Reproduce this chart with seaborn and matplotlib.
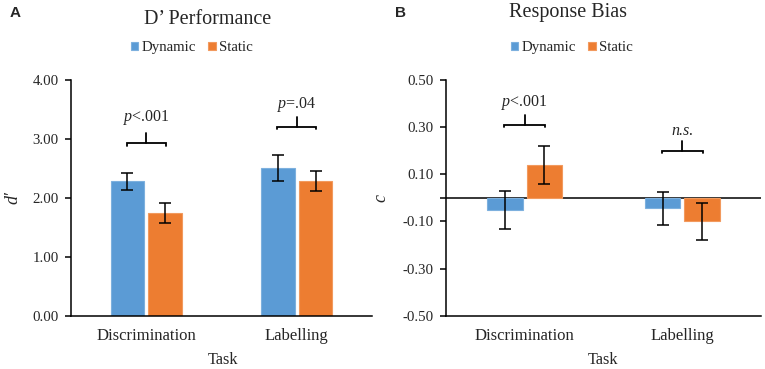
import matplotlib
matplotlib.use('Agg')
import matplotlib.pyplot as plt
import numpy as np
import pandas as pd
import seaborn as sns
from matplotlib.patches import Patch

tasks = ['Discrimination', 'Labelling']
conditions = ['Dynamic', 'Static']

dprime_dynamic = [2.28, 2.50]
dprime_static = [1.75, 2.29]
dprime_err_dynamic = [0.14, 0.22]
dprime_err_static = [0.17, 0.17]

bias_dynamic = [-0.05, -0.045]
bias_static = [0.14, -0.10]
bias_err_dynamic = [0.08, 0.07]
bias_err_static = [0.08, 0.077]

dprime_sig_labels = ['p<.001', 'p=.04']
dprime_sig_heights = [2.93, 3.21]
dprime_text_heights = [3.31, 3.52]
bias_sig_labels = ['p<.001', 'n.s.']
bias_sig_heights = [0.31, 0.20]
bias_text_heights = [0.39, 0.266]

colors = ['#5B9BD5', '#ED7D31']
edges = ['#7DB0DE', '#F29A5E']

sns.set_style('white')
plt.rcParams['font.family'] = ['Liberation Serif', 'DejaVu Serif']
plt.rcParams['mathtext.fontset'] = 'custom'
plt.rcParams['mathtext.rm'] = 'Liberation Serif'
plt.rcParams['mathtext.it'] = 'Liberation Serif:italic'
plt.rcParams['axes.unicode_minus'] = False


def make_df(dyn, sta):
    return pd.DataFrame({
        'Task': tasks * 2,
        'Condition': ['Dynamic'] * 2 + ['Static'] * 2,
        'value': list(dyn) + list(sta),
    })


def draw_panel(ax, dyn, sta, err_dyn, err_sta, sig_labels, sig_heights,
               text_heights):
    df = make_df(dyn, sta)
    sns.barplot(data=df, x='Task', y='value', hue='Condition',
                hue_order=conditions, order=tasks, palette=colors,
                saturation=1, width=0.5, gap=0.1, errorbar=None,
                legend=False, ax=ax)
    for cont, errs, ec in zip(ax.containers, [err_dyn, err_sta], edges):
        for bar, e in zip(cont, errs):
            bar.set_edgecolor(ec)
            bar.set_linewidth(0.8)
            x = bar.get_x() + bar.get_width() / 2
            y = bar.get_y() + bar.get_height()
            ax.errorbar(x, y, yerr=e, fmt='none', ecolor='black',
                        elinewidth=1.1, capsize=4.5, capthick=1.1)
    lo, hi = ax.get_ylim()
    rng = hi - lo
    for i, (lab, h, th) in enumerate(zip(sig_labels, sig_heights,
                                         text_heights)):
        hw = 0.13
        drop = 0.011 * rng
        rise = 0.042 * rng
        ax.plot([i - hw, i - hw, i + hw, i + hw],
                [h - drop, h, h, h - drop], color='black', lw=1.3,
                solid_joinstyle='miter')
        ax.plot([i, i], [h, h + rise], color='black', lw=1.3)
        if lab.startswith('p'):
            ax.text(i, th, '$p$' + lab[1:], ha='center', va='baseline',
                    fontsize=11.5)
        else:
            ax.text(i, th, lab, ha='center', va='baseline',
                    fontsize=11.5, fontstyle='italic')


fig = plt.figure(figsize=(7.65, 3.69), dpi=100)
axA = fig.add_axes([71 / 765, 0.1444, 301 / 765, 0.6386])
axB = fig.add_axes([446 / 765, 0.1444, 315 / 765, 0.6386])

# panel A
axA.set_ylim(0, 4)
draw_panel(axA, dprime_dynamic, dprime_static, dprime_err_dynamic,
           dprime_err_static, dprime_sig_labels, dprime_sig_heights,
           dprime_text_heights)
axA.set_ylim(0, 4)
axA.set_yticks([0, 1, 2, 3, 4])
axA.set_yticklabels([f'{v:.2f}' for v in [0, 1, 2, 3, 4]])
axA.set_xlim(-0.5, 1.5)

# panel B
axB.set_ylim(-0.5, 0.5)
draw_panel(axB, bias_dynamic, bias_static, bias_err_dynamic,
           bias_err_static, bias_sig_labels, bias_sig_heights,
           bias_text_heights)
axB.set_ylim(-0.5, 0.5)
bticks = [-0.5, -0.3, -0.1, 0.1, 0.3, 0.5]
axB.set_yticks(bticks)
axB.set_yticklabels([f'{v:.2f}' for v in bticks])
axB.set_yticks([0], minor=True)
axB.set_xlim(-0.5, 1.5)
axB.axhline(0, color='black', lw=1.1, zorder=0.5)
axB.spines['bottom'].set_visible(False)

for ax, ylab in [(axA, "d′"), (axB, 'c')]:
    sns.despine(ax=ax)
    ax.spines['left'].set_color('black')
    ax.spines['left'].set_linewidth(1.1)
    ax.spines['bottom'].set_color('black')
    ax.spines['bottom'].set_linewidth(1.1)
    ax.tick_params(axis='y', which='both', length=4, width=1.1,
                   color='black', labelsize=10.7, pad=5, left=True)
    ax.tick_params(axis='x', length=0, labelsize=12, pad=9)
    ax.set_ylabel(ylab, fontstyle='italic', fontsize=13)
    ax.set_xlabel('Task', fontsize=11.7)
    ax.xaxis.label.set_va('center')

axA.yaxis.set_label_coords(-0.166, 0.503)
axB.yaxis.set_label_coords(-0.178, 0.5)
axA.xaxis.set_label_coords(0.505, -0.188)
axB.xaxis.set_label_coords(0.498, -0.188)

handles = [Patch(facecolor=c, edgecolor=e, lw=0.8)
           for c, e in zip(colors, edges)]
for xc in [192 / 765, 572 / 765]:
    fig.legend(handles, conditions, loc='center', bbox_to_anchor=(xc, 0.87),
               ncol=2, frameon=False, fontsize=10.7, handlelength=0.5,
               handleheight=0.5, handletextpad=0.25, columnspacing=0.8)

fig.text(208 / 765, 1 - 20 / 369, 'D’ Performance', ha='center',
         va='center', fontsize=14.5)
fig.text(568 / 765, 1 - 12 / 369, 'Response Bias', ha='center',
         va='center', fontsize=14.5)
fig.text(15 / 765, 1 - 13 / 369, 'A', ha='center', va='center',
         fontsize=11, fontweight='bold', family='Liberation Sans')
fig.text(400 / 765, 1 - 13 / 369, 'B', ha='center', va='center',
         fontsize=11, fontweight='bold', family='Liberation Sans')

fig.savefig('out.png', dpi=100)
